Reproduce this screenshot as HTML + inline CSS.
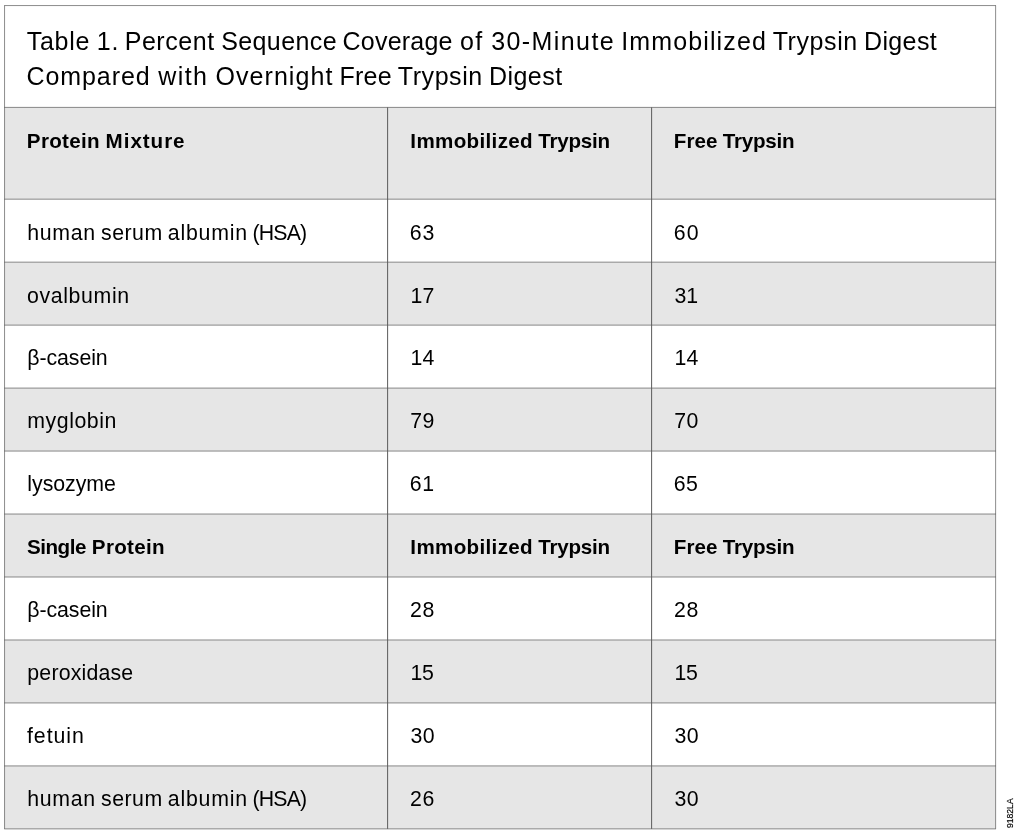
<!DOCTYPE html>
<html lang="en"><head><meta charset="utf-8"><title>Table 1</title><style>
html,body{margin:0;padding:0;background:#fff;}
body{width:1018px;height:834px;position:relative;overflow:hidden;font-family:"Liberation Sans",sans-serif;color:#000;}
.grid{position:absolute;left:0;top:0;display:block;}
.l{position:absolute;left:0;top:0;white-space:nowrap;line-height:1;margin:0;font-weight:normal;}
.l span{position:absolute;display:block;}
.title{font-size:25.0px;}
.b{font-size:21.3px;}
.hd{font-size:20.6px;font-weight:bold;}
.code{position:absolute;left:1005.7px;top:827.5px;font-size:9px;line-height:1;white-space:nowrap;transform-origin:0 0;transform:rotate(-90deg) scaleX(0.955);color:#000;-webkit-text-stroke:0.2px #000;}
</style></head><body>
<svg class="grid" width="1018" height="834" viewBox="0 0 1018 834">
<rect x="4.55" y="107.40" width="991.07" height="91.78" fill="#e6e6e6"/>
<rect x="4.55" y="262.15" width="991.07" height="62.97" fill="#e6e6e6"/>
<rect x="4.55" y="388.09" width="991.07" height="62.97" fill="#e6e6e6"/>
<rect x="4.55" y="514.03" width="991.07" height="62.97" fill="#e6e6e6"/>
<rect x="4.55" y="639.97" width="991.07" height="62.97" fill="#e6e6e6"/>
<rect x="4.55" y="765.91" width="991.07" height="62.97" fill="#e6e6e6"/>
<line x1="4.20" x2="995.97" y1="5.56" y2="5.56" stroke="#5a5a5a" stroke-width="0.7"/>
<line x1="4.20" x2="995.97" y1="107.40" y2="107.40" stroke="#5a5a5a" stroke-width="0.7"/>
<line x1="4.20" x2="995.97" y1="199.18" y2="199.18" stroke="#5a5a5a" stroke-width="0.7"/>
<line x1="4.20" x2="995.97" y1="262.15" y2="262.15" stroke="#5a5a5a" stroke-width="0.7"/>
<line x1="4.20" x2="995.97" y1="325.12" y2="325.12" stroke="#5a5a5a" stroke-width="0.7"/>
<line x1="4.20" x2="995.97" y1="388.09" y2="388.09" stroke="#5a5a5a" stroke-width="0.7"/>
<line x1="4.20" x2="995.97" y1="451.06" y2="451.06" stroke="#5a5a5a" stroke-width="0.7"/>
<line x1="4.20" x2="995.97" y1="514.03" y2="514.03" stroke="#5a5a5a" stroke-width="0.7"/>
<line x1="4.20" x2="995.97" y1="577.00" y2="577.00" stroke="#5a5a5a" stroke-width="0.7"/>
<line x1="4.20" x2="995.97" y1="639.97" y2="639.97" stroke="#5a5a5a" stroke-width="0.7"/>
<line x1="4.20" x2="995.97" y1="702.94" y2="702.94" stroke="#5a5a5a" stroke-width="0.7"/>
<line x1="4.20" x2="995.97" y1="765.91" y2="765.91" stroke="#5a5a5a" stroke-width="0.7"/>
<line x1="4.20" x2="995.97" y1="828.88" y2="828.88" stroke="#5a5a5a" stroke-width="0.7"/>
<line x1="4.55" x2="4.55" y1="5.56" y2="828.88" stroke="#5a5a5a" stroke-width="0.7"/>
<line x1="995.62" x2="995.62" y1="5.56" y2="828.88" stroke="#5a5a5a" stroke-width="0.7"/>
<line x1="387.62" x2="387.62" y1="107.40" y2="828.88" stroke="#5a5a5a" stroke-width="1"/>
<line x1="651.62" x2="651.62" y1="107.40" y2="828.88" stroke="#5a5a5a" stroke-width="1"/>
</svg>
<div class="tbl" role="table">
<div class="cap" role="caption">
<div class="l title" role="presentation"><span style="left:26.69px;top:29px;letter-spacing:0.73px">Table</span> <span style="left:96.69px;top:29px;letter-spacing:0.82px">1.</span> <span style="left:124.68px;top:29px;letter-spacing:0.55px">Percent</span> <span style="left:221.18px;top:29px;letter-spacing:0.40px">Sequence</span> <span style="left:342.58px;top:29px;letter-spacing:0.21px">Coverage</span> <span style="left:460.07px;top:29px;letter-spacing:1.40px">of</span> <span style="left:491.27px;top:29px;letter-spacing:1.40px">30-Minute</span> <span style="left:621.20px;top:29px;letter-spacing:1.13px">Immobilized</span> <span style="left:772.68px;top:29px;letter-spacing:0.59px">Trypsin</span> <span style="left:864.04px;top:29px;letter-spacing:0.36px">Digest</span></div>
<div class="l title" role="presentation"><span style="left:26.47px;top:64px;letter-spacing:0.92px">Compared</span> <span style="left:158.36px;top:64px;letter-spacing:1.40px">with</span> <span style="left:215.40px;top:64px;letter-spacing:1.08px">Overnight</span> <span style="left:339.48px;top:64px;letter-spacing:0.25px">Free</span> <span style="left:397.84px;top:64px;letter-spacing:0.55px">Trypsin</span> <span style="left:488.94px;top:64px;letter-spacing:0.46px">Digest</span></div>
</div>
<div class="row" role="row">
<div class="l hd" role="columnheader"><span style="left:26.86px;top:131px;letter-spacing:0.31px">Protein</span> <span style="left:105.61px;top:131px;letter-spacing:0.95px">Mixture</span></div>
<div class="l hd" role="columnheader"><span style="left:410.36px;top:131px;letter-spacing:0.33px">Immobilized</span> <span style="left:538.25px;top:131px;letter-spacing:-0.25px">Trypsin</span></div>
<div class="l hd" role="columnheader"><span style="left:673.86px;top:131px;letter-spacing:-0.00px">Free</span> <span style="left:722.75px;top:131px;letter-spacing:-0.25px">Trypsin</span></div>
</div>
<div class="row" role="row">
<div class="l b" role="cell"><span style="left:27.26px;top:223px;letter-spacing:0.70px">human</span> <span style="left:101.00px;top:223px;letter-spacing:0.49px">serum</span> <span style="left:167.75px;top:223px;letter-spacing:0.80px">albumin</span> <span style="left:252.43px;top:223px;letter-spacing:-0.80px">(HSA)</span></div>
<div class="l b" role="cell"><span style="left:409.86px;top:223px;letter-spacing:0.79px">63</span></div>
<div class="l b" role="cell"><span style="left:673.86px;top:223px;letter-spacing:0.93px">60</span></div>
</div>
<div class="row" role="row">
<div class="l b" role="cell"><span style="left:27.00px;top:286px;letter-spacing:0.63px">ovalbumin</span></div>
<div class="l b" role="cell"><span style="left:410.62px;top:286px;letter-spacing:0.12px">17</span></div>
<div class="l b" role="cell"><span style="left:674.44px;top:286px;letter-spacing:0.03px">31</span></div>
</div>
<div class="row" role="row">
<div class="l b" role="cell"><span style="left:27.26px;top:348px;letter-spacing:-0.07px">β-casein</span></div>
<div class="l b" role="cell"><span style="left:410.62px;top:348px;letter-spacing:0.17px">14</span></div>
<div class="l b" role="cell"><span style="left:674.62px;top:348px;letter-spacing:0.17px">14</span></div>
</div>
<div class="row" role="row">
<div class="l b" role="cell"><span style="left:27.29px;top:411px;letter-spacing:0.54px">myglobin</span></div>
<div class="l b" role="cell"><span style="left:410.14px;top:411px;letter-spacing:0.58px">79</span></div>
<div class="l b" role="cell"><span style="left:674.14px;top:411px;letter-spacing:0.65px">70</span></div>
</div>
<div class="row" role="row">
<div class="l b" role="cell"><span style="left:27.30px;top:474px;letter-spacing:-0.02px">lysozyme</span></div>
<div class="l b" role="cell"><span style="left:409.86px;top:474px;letter-spacing:0.60px">61</span></div>
<div class="l b" role="cell"><span style="left:673.86px;top:474px;letter-spacing:0.26px">65</span></div>
</div>
<div class="row" role="row">
<div class="l hd" role="columnheader"><span style="left:26.89px;top:537px;letter-spacing:-0.46px">Single</span> <span style="left:91.86px;top:537px;letter-spacing:0.31px">Protein</span></div>
<div class="l hd" role="columnheader"><span style="left:410.36px;top:537px;letter-spacing:0.33px">Immobilized</span> <span style="left:538.25px;top:537px;letter-spacing:-0.25px">Trypsin</span></div>
<div class="l hd" role="columnheader"><span style="left:673.86px;top:537px;letter-spacing:-0.00px">Free</span> <span style="left:722.75px;top:537px;letter-spacing:-0.25px">Trypsin</span></div>
</div>
<div class="row" role="row">
<div class="l b" role="cell"><span style="left:27.26px;top:600px;letter-spacing:-0.07px">β-casein</span></div>
<div class="l b" role="cell"><span style="left:409.91px;top:600px;letter-spacing:0.73px">28</span></div>
<div class="l b" role="cell"><span style="left:673.91px;top:600px;letter-spacing:0.73px">28</span></div>
</div>
<div class="row" role="row">
<div class="l b" role="cell"><span style="left:27.33px;top:663px;letter-spacing:0.18px">peroxidase</span></div>
<div class="l b" role="cell"><span style="left:410.62px;top:663px;letter-spacing:-0.50px">15</span></div>
<div class="l b" role="cell"><span style="left:674.62px;top:663px;letter-spacing:-0.50px">15</span></div>
</div>
<div class="row" role="row">
<div class="l b" role="cell"><span style="left:26.94px;top:726px;letter-spacing:0.97px">fetuin</span></div>
<div class="l b" role="cell"><span style="left:410.44px;top:726px;letter-spacing:0.35px">30</span></div>
<div class="l b" role="cell"><span style="left:674.44px;top:726px;letter-spacing:0.35px">30</span></div>
</div>
<div class="row" role="row">
<div class="l b" role="cell"><span style="left:27.26px;top:789px;letter-spacing:0.70px">human</span> <span style="left:101.00px;top:789px;letter-spacing:0.49px">serum</span> <span style="left:167.75px;top:789px;letter-spacing:0.80px">albumin</span> <span style="left:252.43px;top:789px;letter-spacing:-0.80px">(HSA)</span></div>
<div class="l b" role="cell"><span style="left:409.91px;top:789px;letter-spacing:0.76px">26</span></div>
<div class="l b" role="cell"><span style="left:674.44px;top:789px;letter-spacing:0.35px">30</span></div>
</div>
</div>
<div class="code">9182LA</div>
</body></html>
